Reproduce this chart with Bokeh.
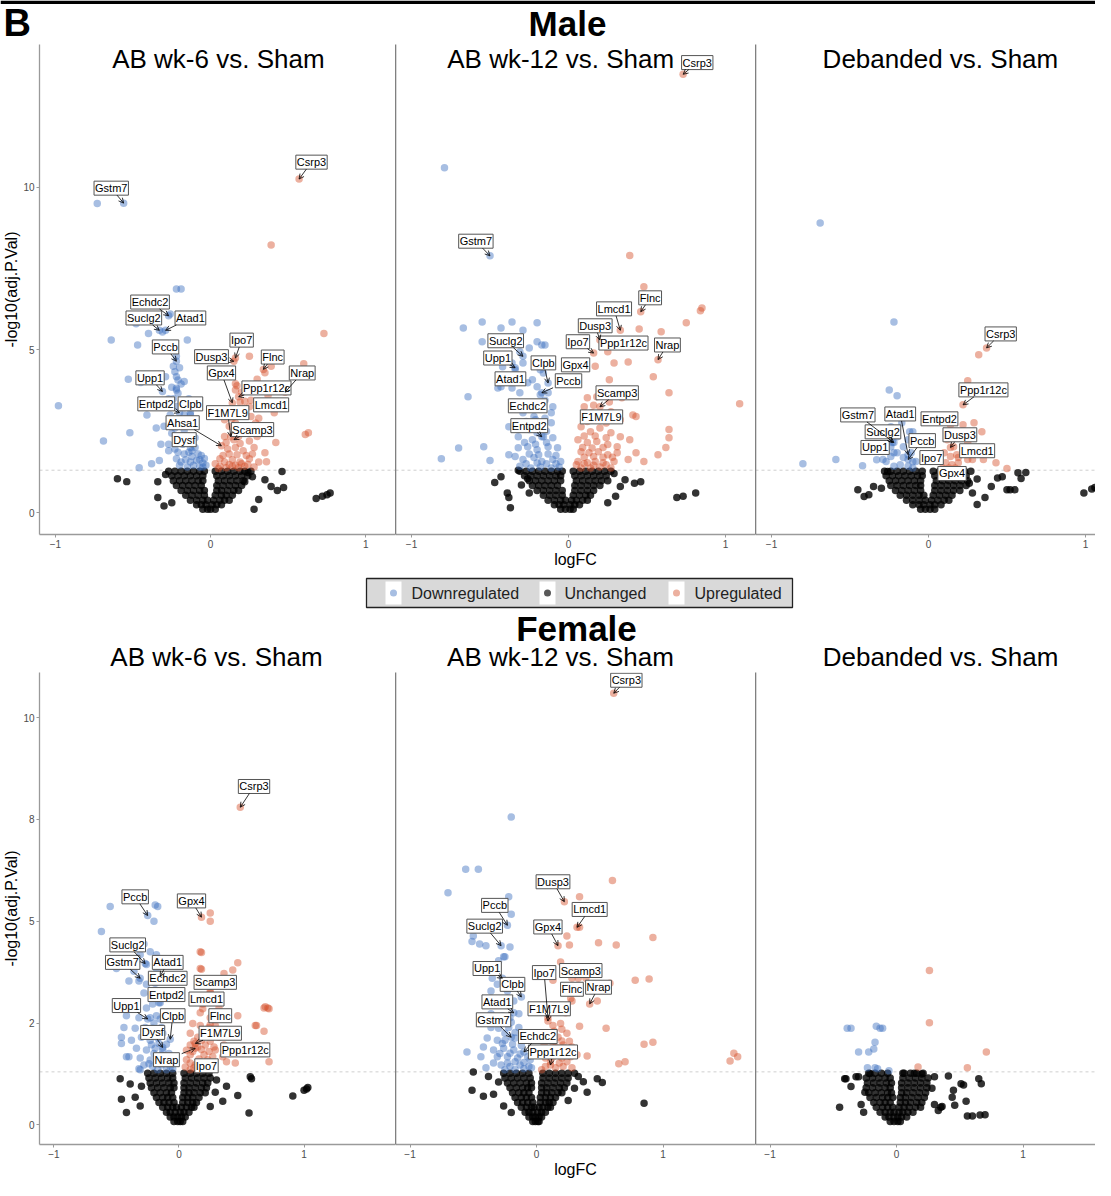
import math
from bokeh.plotting import figure
from bokeh.layouts import column, row
from bokeh.models import Range1d, ColumnDataSource, Arrow, OpenHead, Span, FixedTicker
from bokeh.core.properties import value
from bokeh.embed import file_html
from bokeh.resources import INLINE

FONT = "Liberation Sans"

# ---------------- DATA (logFC, -log10 adj.P) ----------------
# ---- Male, AB wk-6 vs Sham
M6_down = [(-0.73,9.5),(-0.56,9.51),(-0.22,6.87),(-0.19,6.87),(-0.27,6.05),(-0.26,6.1),(-0.33,5.6),(-0.31,5.55),(-0.29,5.6),(-0.64,5.3),(-0.40,5.5),(-0.47,5.15),(-0.48,5.8),(-0.15,5.3),
(-0.22,4.8),(-0.22,4.65),(-0.23,4.33),(-0.22,4.17),(-0.21,4.07),(-0.32,4.07),(-0.29,4.17),(-0.31,3.72),(-0.22,3.82),(-0.22,3.77),(-0.21,3.67),(-0.17,4.03),
(-0.27,3.5),(-0.24,3.5),(-0.14,3.5),(-0.22,3.26),(-0.18,3.26),(-0.41,3.0),(-0.26,3.0),(-0.17,3.0),(-0.13,3.0),(-0.2,3.07),(-0.13,3.07),
(-0.35,2.6),(-0.30,2.65),(-0.25,2.44),(-0.21,2.8),(-0.17,2.54),(-0.14,2.34),(-0.11,2.65),
(-0.27,2.1),(-0.23,1.95),(-0.18,2.1),(-0.14,1.85),(-0.1,2.0),(-0.08,1.8),(-0.13,2.0),
(-0.22,1.65),(-0.16,1.62),(-0.12,1.72),(-0.07,1.62),(-0.04,1.66),
(-0.2,1.45),(-0.15,1.4),(-0.11,1.45),(-0.07,1.4),(-0.03,1.45),(-0.05,1.52),
(-0.53,4.1),(-0.45,4.0),(-0.98,3.28),(-0.69,2.2),(-0.52,2.45),(-0.46,1.38),(-0.38,1.5),(-0.33,1.6),(-0.27,1.9),(-0.32,2.1),
(-0.19,1.55),(-0.13,1.55),(-0.09,1.6),(-0.05,1.4),(-0.17,1.8),(-0.21,1.85),(-0.12,1.9),(-0.06,1.75),(-0.19,2.25),(-0.15,2.2),(-0.1,2.3),(-0.23,2.6),(-0.16,2.85),(-0.19,3.4),(-0.25,3.85),(-0.19,3.95),(-0.24,4.5),(-0.2,4.45)]
M6_up = [(0.57,10.25),(0.39,8.22),(0.73,5.5),(0.16,4.75),(0.15,4.65),(0.25,4.8),(0.34,4.4),(0.35,4.3),(0.39,4.5),(0.60,4.57),(0.48,3.7),
(0.16,3.96),(0.17,3.9),(0.25,3.75),(0.29,3.9),(0.14,3.37),(0.18,3.56),(0.16,3.77),(0.19,3.4),(0.22,3.42),(0.26,3.45),(0.31,3.3),(0.37,3.6),(0.25,3.25),
(0.12,3.1),(0.15,2.95),(0.2,3.1),(0.26,2.95),(0.31,2.9),(0.41,3.07),
(0.09,2.85),(0.12,2.65),(0.16,2.75),(0.21,2.6),(0.29,2.75),(0.35,2.55),
(0.09,2.34),(0.13,2.33),(0.15,2.24),(0.18,2.34),(0.25,2.2),(0.3,2.34),(0.42,2.15),(0.61,2.4),(0.63,2.45),
(0.07,2.05),(0.11,1.95),(0.16,2.0),(0.21,1.9),(0.28,2.0),(0.35,1.84),
(0.06,1.65),(0.09,1.55),(0.14,1.62),(0.19,1.55),(0.25,1.65),(0.31,1.55),(0.36,1.56),
(0.06,1.42),(0.1,1.38),(0.14,1.42),(0.18,1.38),(0.22,1.42),(0.28,1.4),(0.03,1.5),
(0.05,1.35),(0.12,1.48),(0.16,1.45),(0.2,1.5),(0.24,1.48),(0.08,1.75),(0.12,1.8),(0.17,1.78),(0.23,1.75),(0.27,1.8),(0.1,2.15),(0.19,2.12),(0.23,2.45),(0.18,2.55),(0.14,2.9),(0.22,3.2),(0.2,3.7),(0.3,4.1)]
M6_unch_out = [(-0.6,1.04),(-0.54,0.95),(-0.34,0.95),(-0.29,1.17),(-0.34,0.46),(-0.25,0.3),(-0.3,0.2),(0.24,1.23),(0.22,0.95),(0.27,1.1),(0.35,1.01),(0.39,0.8),(0.43,0.68),(0.47,0.77),(0.46,1.26),(0.28,0.1),(0.31,0.4),(0.68,0.43),(0.72,0.5),(0.75,0.55),(0.77,0.6)]
M6_unch_core = [(1.27,[-0.27,-0.23,-0.19,-0.15,-0.11,-0.07,-0.04,0.03,0.07,0.11,0.15,0.19,0.22,0.26]),
(1.13,[-0.25,-0.21,-0.17,-0.13,-0.09,-0.05,0.04,0.08,0.12,0.16,0.2,0.24]),
(0.98,[-0.24,-0.2,-0.16,-0.12,-0.08,-0.05,0.05,0.09,0.13,0.17,0.21]),
(0.83,[-0.22,-0.18,-0.14,-0.1,-0.06,0.04,0.08,0.12,0.16,0.2]),
(0.68,[-0.19,-0.15,-0.11,-0.07,-0.04,0.04,0.07,0.11,0.15,0.18]),
(0.53,[-0.16,-0.12,-0.08,-0.04,0.03,0.07,0.1,0.14]),
(0.38,[-0.13,-0.09,-0.05,-0.02,0.02,0.06,0.09,0.12]),
(0.24,[-0.09,-0.06,-0.03,0.01,0.04,0.07]),
(0.1,[-0.05,-0.02,0.0,0.03])]
M6_labels = [("Gstm7",-0.56,9.51),("Csrp3",0.57,10.25),("Echdc2",-0.27,6.05),("Suclg2",-0.33,5.6),("Atad1",-0.29,5.6),("Pccb",-0.22,4.65),("Ipo7",0.16,4.75),("Dusp3",0.15,4.65),("Flnc",0.34,4.4),("Gpx4",0.14,3.37),("Nrap",0.48,3.7),("Ppp1r12c",0.18,3.56),("Upp1",-0.31,3.72),("Lmcd1",0.25,3.25),("Entpd2",-0.2,3.07),("Clpb",-0.13,3.07),("F1M7L9",0.13,2.33),("Ahsa1",0.07,2.05),("Scamp3",0.15,2.24),("Dysf",-0.13,2.0)]
M6_boxes = [(-0.64,9.97),(0.65,10.77),(-0.39,6.47),(-0.43,5.98),(-0.13,5.98),(-0.29,5.09),(0.2,5.3),(0.006,4.79),(0.4,4.78),(0.07,4.29),(0.59,4.29),(0.36,3.83),(-0.39,4.14),(0.39,3.31),(-0.35,3.34),(-0.13,3.34),(0.11,3.07),(-0.18,2.76),(0.27,2.55),(-0.17,2.24)]

# ---- Male, AB wk-12 vs Sham
M12_down = [(-0.79,10.6),(-0.5,7.89),(-0.67,5.67),(-0.55,5.86),(-0.55,5.25),(-0.43,5.67),(-0.36,5.86),(-0.2,5.83),(-0.29,5.6),(-0.42,4.48),(-0.45,3.83),(-0.64,3.56),(-0.70,1.98),(-0.81,1.65),(-0.5,1.6),(-0.38,1.78),(-0.29,4.8),(-0.34,4.45),(-0.23,4.08),(-0.13,3.98),(-0.17,3.68),(-0.17,2.33),(-0.15,3.45),
(-0.2,5.25),(-0.17,5.15),(-0.15,5.15),(-0.31,4.94),(-0.25,5.06),(-0.36,4.6),(-0.29,4.6),(-0.2,4.69),(-0.34,4.39),(-0.18,4.39),(-0.16,4.29),
(-0.43,3.87),(-0.36,3.83),(-0.26,3.99),(-0.2,3.87),(-0.31,3.68),(-0.18,3.62),(-0.13,3.68),(-0.24,3.37),(-0.1,3.25),
(-0.29,3.07),(-0.22,2.95),(-0.11,3.07),(-0.38,2.64),(-0.31,2.64),(-0.25,2.55),(-0.18,2.64),(-0.11,2.76),
(-0.32,2.33),(-0.23,2.24),(-0.16,2.33),(-0.1,2.3),(-0.54,2.02),(-0.32,1.99),(-0.26,2.02),(-0.2,1.93),(-0.13,2.02),(-0.07,1.99),
(-0.34,1.72),(-0.29,1.63),(-0.22,1.69),(-0.17,1.57),(-0.1,1.63),(-0.05,1.57),
(-0.31,1.42),(-0.24,1.37),(-0.18,1.4),(-0.11,1.37),(-0.06,1.4),
(-0.27,1.5),(-0.2,1.52),(-0.14,1.5),(-0.08,1.5),(-0.25,1.8),(-0.19,1.78),(-0.13,1.8),(-0.08,1.75),(-0.28,2.15),(-0.21,2.1),(-0.14,2.15),(-0.2,2.45),(-0.14,2.5),(-0.27,2.8),(-0.21,2.85),(-0.15,2.9),(-0.26,3.2),(-0.19,3.2)]
M12_up = [(0.73,13.47),(0.39,7.9),(0.48,6.94),(0.85,6.29),(0.46,6.17),(0.33,5.6),(0.45,5.64),(0.59,5.56),(0.75,5.83),(0.84,6.2),(0.22,5.2),(0.2,5.3),(0.16,4.9),(0.57,4.7),(0.25,4.94),(0.17,4.5),(0.26,4.08),(0.54,4.17),(0.64,3.68),(0.12,3.53),(0.41,3.0),(0.43,2.95),(0.64,2.55),(0.64,2.3),(0.62,2.0),(0.57,1.78),(0.48,1.57),(0.2,3.25),(1.09,3.34),(0.17,2.95),(0.1,4.5),
(0.18,3.56),(0.34,3.53),(0.29,4.6),(0.38,4.63),(0.22,3.77),(0.1,3.25),(0.15,3.07),(0.27,3.1),(0.33,2.85),
(0.08,2.64),(0.14,2.48),(0.2,2.6),(0.27,2.45),(0.33,2.33),(0.06,2.24),(0.12,2.15),(0.18,2.18),(0.25,2.09),(0.31,2.02),(0.39,2.24),
(0.08,1.87),(0.13,1.84),(0.19,1.87),(0.25,1.78),(0.31,1.84),(0.43,1.84),
(0.06,1.57),(0.12,1.53),(0.17,1.57),(0.22,1.53),(0.29,1.57),(0.38,1.63),
(0.08,1.37),(0.14,1.37),(0.2,1.4),(0.27,1.37),
(0.05,1.47),(0.1,1.5),(0.16,1.45),(0.24,1.47),(0.1,1.7),(0.16,1.72),(0.22,1.7),(0.28,1.7),(0.09,2.0),(0.15,1.98),(0.22,2.0),(0.1,2.35),(0.17,2.35),(0.24,2.3),(0.12,2.8),(0.24,2.75),(0.16,3.3),(0.26,3.4)]
M12_unch_out = [(-0.32,1.3),(-0.43,1.1),(-0.47,0.92),(-0.38,0.46),(-0.37,0.15),(-0.25,0.6),(-0.26,1.04),(-0.39,0.6),(-0.3,0.85),(0.36,1.01),(0.46,0.95),(0.42,0.9),(0.3,0.5),(0.29,1.2),(0.33,0.8),(0.25,0.3),(0.69,0.46),(0.73,0.5),(0.81,0.6)]
M12_unch_core = [(1.27,[-0.31,-0.27,-0.23,-0.19,-0.15,-0.11,-0.07,-0.04,0.03,0.07,0.11,0.15,0.19,0.23,0.27]),
(1.13,[-0.28,-0.24,-0.2,-0.16,-0.12,-0.08,-0.05,0.04,0.08,0.12,0.16,0.2,0.24]),
(0.98,[-0.25,-0.21,-0.17,-0.13,-0.09,-0.05,0.05,0.09,0.13,0.17,0.21,0.25]),
(0.83,[-0.23,-0.19,-0.15,-0.11,-0.07,0.04,0.08,0.12,0.16,0.2]),
(0.68,[-0.2,-0.16,-0.12,-0.08,-0.04,0.04,0.08,0.12,0.16]),
(0.53,[-0.16,-0.12,-0.08,-0.04,0.03,0.07,0.11,0.14]),
(0.38,[-0.13,-0.09,-0.05,-0.02,0.02,0.05,0.09,0.12]),
(0.24,[-0.09,-0.06,-0.03,0.01,0.04,0.07]),
(0.1,[-0.05,-0.02,0.01,0.03])]
M12_labels = [("Csrp3",0.73,13.47),("Gstm7",-0.5,7.89),("Flnc",0.46,6.17),("Lmcd1",0.33,5.6),("Dusp3",0.2,5.3),("Suclg2",-0.29,4.8),("Ipo7",0.16,4.9),("Ppp1r12c",0.22,5.2),("Nrap",0.57,4.7),("Upp1",-0.34,4.45),("Clpb",-0.13,3.98),("Gpx4",0.1,4.5),("Atad1",-0.23,4.08),("Pccb",-0.17,3.68),("Scamp3",0.2,3.25),("Echdc2",-0.15,3.45),("F1M7L9",0.17,2.95),("Entpd2",-0.17,2.33)]
M12_boxes = [(0.82,13.83),(-0.59,8.34),(0.52,6.6),(0.29,6.26),(0.17,5.74),(-0.4,5.28),(0.06,5.25),(0.35,5.21),(0.63,5.15),(-0.45,4.75),(-0.16,4.6),(0.045,4.54),(-0.37,4.11),(0.0,4.05),(0.31,3.68),(-0.26,3.28),(0.21,2.94),(-0.25,2.67)]

# ---- Male, Debanded vs Sham
MD_down = [(-0.69,8.9),(-0.22,5.86),(-0.25,3.77),(-0.2,3.59),(-0.80,1.5),(-0.59,1.63),(-0.42,1.44),(-0.33,1.62),(-0.29,1.63),(-0.12,2.48),(-0.1,2.48),(-0.22,2.15),(-0.23,2.15),(-0.13,1.78),(-0.22,1.84),(-0.13,1.63),(-0.1,1.56),
(-0.17,2.76),(-0.24,2.64),(-0.2,2.33),(-0.16,2.02),(-0.2,1.84),(-0.24,1.72),(-0.27,1.57),(-0.16,1.69),(-0.11,1.84),(-0.08,1.57),(-0.18,1.47),(-0.13,1.42),(-0.1,1.37),(-0.22,1.42),(-0.24,2.02),(-0.13,2.24)]
MD_up = [(0.37,5.06),(0.32,4.85),(0.25,4.05),(0.22,3.31),(0.14,2.7),(0.22,2.7),(0.29,2.76),(0.34,2.48),(0.25,2.15),(0.35,1.63),(0.43,1.53),(0.5,1.35),(0.14,2.0),(0.19,1.69),
(0.25,1.63),(0.28,1.63),(0.12,2.24),(0.16,2.02),(0.1,1.84),(0.14,1.72),(0.18,1.78),(0.11,1.53),(0.15,1.47),(0.19,1.53),(0.09,1.37),(0.13,1.37),(0.17,1.37),(0.22,2.33)]
MD_unch_out = [(-0.45,0.7),(-0.41,0.49),(-0.35,0.8),(-0.3,0.75),(-0.38,0.55),(-0.26,1.26),(0.31,1.03),(0.26,0.9),(0.28,0.6),(0.36,0.46),(0.4,0.8),(0.44,1.06),(0.47,1.1),(0.5,0.7),(0.52,0.7),(0.55,0.7),(0.59,1.05),(0.57,1.22),(0.62,1.23),(0.31,0.25),(0.99,0.6),(1.04,0.72),(1.06,0.77),(0.22,1.23)]
MD_unch_core = [(1.27,[-0.28,-0.24,-0.2,-0.16,-0.12,-0.08,-0.04,0.03,0.07,0.11,0.15,0.19,0.23,0.27]),
(1.13,[-0.27,-0.23,-0.19,-0.15,-0.11,-0.07,-0.04,0.04,0.08,0.12,0.16,0.2,0.24]),
(0.98,[-0.25,-0.21,-0.17,-0.13,-0.09,-0.05,0.05,0.09,0.13,0.17,0.21,0.25]),
(0.83,[-0.24,-0.2,-0.16,-0.12,-0.08,-0.05,0.04,0.08,0.12,0.16,0.2,0.24]),
(0.68,[-0.21,-0.17,-0.13,-0.09,-0.05,0.04,0.08,0.12,0.16,0.2]),
(0.53,[-0.18,-0.14,-0.1,-0.06,-0.03,0.03,0.07,0.11,0.15]),
(0.38,[-0.14,-0.1,-0.06,-0.02,0.02,0.06,0.1,0.13]),
(0.24,[-0.1,-0.06,-0.03,0.01,0.04,0.08]),
(0.1,[-0.05,-0.02,0.01,0.04])]
MD_labels = [("Csrp3",0.37,5.06),("Ppp1r12c",0.22,3.31),("Gstm7",-0.22,2.15),("Atad1",-0.13,1.78),("Entpd2",0.14,2.7),("Suclg2",-0.23,2.15),("Dusp3",0.14,2.0),("Pccb",-0.13,1.63),("Upp1",-0.22,1.84),("Lmcd1",0.19,1.69),("Ipo7",-0.1,1.56),("Gpx4",0.22,1.23)]
MD_boxes = [(0.46,5.49),(0.35,3.77),(-0.45,3.0),(-0.18,3.03),(0.07,2.88),(-0.29,2.48),(0.2,2.39),(-0.04,2.21),(-0.34,2.0),(0.31,1.9),(0.02,1.69),(0.15,1.2)]

# ---- Female, AB wk-6 vs Sham
F6_down = [(-0.25,5.14),(-0.19,5.4),(-0.17,5.36),(-0.2,5.0),(-0.55,5.36),(-0.62,4.75),(-0.27,3.96),(-0.31,3.6),(-0.5,3.84),(-0.4,3.53),(-0.25,2.6),(-0.13,1.9),(-0.07,2.1),(-0.46,2.15),(-0.42,1.67),(-0.32,1.38),(-0.15,3.65),(-0.19,3.48),(-0.16,3.0),
(-0.28,4.44),(-0.23,4.25),(-0.31,4.18),(-0.18,4.18),(-0.26,3.94),(-0.36,3.77),(-0.18,3.84),(-0.32,3.53),(-0.26,3.45),(-0.21,3.53),(-0.28,3.24),(-0.22,3.21),(-0.17,3.24),
(-0.38,2.97),(-0.26,2.87),(-0.21,2.97),(-0.15,3.0),(-0.42,2.68),(-0.32,2.63),(-0.23,2.63),(-0.18,2.68),
(-0.44,2.39),(-0.35,2.37),(-0.27,2.39),(-0.21,2.37),(-0.14,2.39),(-0.38,2.08),(-0.3,2.15),(-0.23,2.08),(-0.17,2.13),
(-0.46,2.0),(-0.34,1.88),(-0.26,1.84),(-0.19,1.88),(-0.13,1.84),(-0.4,1.67),(-0.31,1.64),(-0.23,1.59),(-0.17,1.64),(-0.1,1.59),
(-0.28,1.47),(-0.21,1.43),(-0.14,1.47),(-0.07,1.43),(-0.31,1.35),(-0.17,1.35),(-0.1,1.35),(-0.05,1.38),
(-0.24,1.5),(-0.18,1.52),(-0.12,1.55),(-0.06,1.52),(-0.2,1.75),(-0.14,1.72),(-0.08,1.75),(-0.22,1.97),(-0.16,2.0),(-0.1,1.98),(-0.25,2.25),(-0.19,2.22),(-0.13,2.25),(-0.2,2.5),(-0.15,2.6)]
F6_up = [(0.49,7.8),(0.18,5.1),(0.25,5.2),(0.25,5.0),(0.18,4.23),(0.47,3.98),(0.43,3.8),(0.18,3.82),(0.25,3.28),(0.19,2.85),(0.25,2.46),(0.13,2.0),(0.29,1.84),(0.13,1.88),(0.71,2.87),(0.69,2.9),(0.62,2.44),(0.68,2.3),(0.72,1.55),(0.47,2.68),(0.38,1.55),(0.17,1.52),
(0.17,4.25),(0.17,3.84),(0.36,3.72),(0.25,3.24),(0.27,3.04),(0.19,2.97),(0.17,2.75),(0.25,2.63),(0.32,2.87),(0.39,2.63),
(0.11,2.49),(0.17,2.44),(0.24,2.39),(0.29,2.44),(0.09,2.25),(0.15,2.15),(0.21,2.2),(0.32,2.15),(0.4,2.25),
(0.09,1.96),(0.15,1.91),(0.21,1.96),(0.28,1.91),(0.36,1.96),(0.09,1.72),(0.2,1.72),(0.27,1.67),(0.35,1.67),(0.61,2.44),
(0.09,1.52),(0.13,1.47),(0.2,1.5),(0.27,1.47),(0.45,1.52),(0.09,1.35),(0.15,1.35),(0.21,1.38),(0.52,1.76),(0.68,2.87),(0.72,2.85),
(0.05,1.42),(0.12,1.4),(0.18,1.43),(0.24,1.42),(0.06,1.6),(0.16,1.62),(0.23,1.6),(0.06,1.83),(0.11,1.8),(0.18,1.85),(0.24,1.8),(0.12,2.05),(0.18,2.08),(0.25,2.05),(0.2,2.3)]
F6_unch_out = [(-0.47,1.13),(-0.39,1.0),(-0.46,0.63),(-0.35,0.68),(-0.31,0.46),(-0.42,0.3),(-0.3,0.95),(0.47,0.72),(0.56,0.29),(0.58,1.13),(0.57,1.18),(0.91,0.71),(1.0,0.85),(1.03,0.92),(1.02,0.88),(0.35,0.58),(0.29,0.8),(0.3,1.1),(0.38,0.95),(0.25,0.45)]
F6_unch_core = [(1.27,[-0.25,-0.2,-0.15,-0.1,-0.05,0.04,0.09,0.14,0.19,0.24]),
(1.15,[-0.24,-0.19,-0.14,-0.09,-0.05,0.05,0.1,0.15,0.2,0.25]),
(1.03,[-0.23,-0.18,-0.13,-0.08,-0.04,0.04,0.09,0.14,0.19,0.23]),
(0.91,[-0.22,-0.17,-0.12,-0.07,-0.04,0.04,0.08,0.13,0.18,0.22]),
(0.79,[-0.2,-0.15,-0.1,-0.06,0.04,0.08,0.12,0.17,0.21]),
(0.67,[-0.18,-0.13,-0.09,-0.05,0.03,0.07,0.11,0.16]),
(0.55,[-0.16,-0.12,-0.08,-0.04,0.03,0.07,0.11,0.14]),
(0.43,[-0.13,-0.09,-0.05,-0.02,0.02,0.06,0.1,0.12]),
(0.31,[-0.1,-0.07,-0.03,0.01,0.04,0.08]),
(0.19,[-0.07,-0.04,-0.01,0.02,0.05]),
(0.08,[-0.04,-0.01,0.01,0.03])]
F6_labels = [("Csrp3",0.49,7.8),("Pccb",-0.25,5.14),("Gpx4",0.18,5.1),("Suclg2",-0.27,3.96),("Gstm7",-0.31,3.6),("Atad1",-0.15,3.65),("Echdc2",-0.19,3.48),("Scamp3",0.25,3.28),("Entpd2",-0.16,3.0),("Lmcd1",0.19,2.85),("Upp1",-0.25,2.6),("Flnc",0.25,2.46),("Clpb",-0.07,2.1),("F1M7L9",0.13,2.0),("Dysf",-0.13,1.9),("Ppp1r12c",0.29,1.84),("Nrap",0.13,1.88),("Ipo7",0.17,1.52)]
F6_boxes = [(0.6,8.31),(-0.35,5.6),(0.1,5.5),(-0.41,4.42),(-0.45,3.99),(-0.09,3.99),(-0.09,3.6),(0.29,3.5),(-0.1,3.2),(0.22,3.09),(-0.42,2.93),(0.33,2.68),(-0.05,2.68),(0.33,2.25),(-0.21,2.27),(0.53,1.84),(-0.1,1.6),(0.22,1.45)]

# ---- Female, AB wk-12 vs Sham
F12_down = [(-0.2,7.56),(-0.56,6.28),(-0.46,6.28),(-0.7,5.7),(-0.22,5.6),(-0.2,5.17),(-0.23,4.9),(-0.28,4.4),(-0.5,4.64),(-0.51,4.5),(-0.4,4.4),(-0.45,4.44),(-0.21,4.37),(-0.25,4.13),(-0.3,4.03),(-0.27,3.6),(-0.26,4.13),(-0.35,3.6),(-0.12,3.14),(-0.18,2.75),(-0.2,2.15),(-0.1,1.79),(-0.55,1.79),(-0.34,1.52),
(-0.31,3.45),(-0.36,3.29),(-0.23,3.29),(-0.34,3.0),(-0.25,2.97),(-0.18,3.04),(-0.36,2.73),(-0.27,2.68),(-0.21,2.63),(-0.14,2.73),
(-0.36,2.39),(-0.3,2.37),(-0.22,2.39),(-0.14,2.39),(-0.39,2.13),(-0.31,2.08),(-0.25,2.08),(-0.17,2.13),(-0.09,2.08),
(-0.42,1.91),(-0.34,1.84),(-0.26,1.88),(-0.18,1.84),(-0.44,1.67),(-0.31,1.67),(-0.23,1.67),(-0.15,1.64),(-0.07,1.67),
(-0.28,1.47),(-0.21,1.43),(-0.13,1.47),(-0.06,1.43),(-0.4,1.4),(-0.25,1.35),(-0.17,1.35),(-0.1,1.38),
(-0.23,1.52),(-0.17,1.55),(-0.1,1.53),(-0.04,1.4),(-0.29,1.75),(-0.21,1.76),(-0.13,1.74),(-0.05,1.6),(-0.27,2.0),(-0.19,1.98),(-0.12,1.95),(-0.25,2.25),(-0.17,2.27),(-0.1,2.25),(-0.2,2.52)]
F12_up = [(0.61,10.6),(0.22,5.48),(0.34,5.6),(0.6,6.0),(0.32,4.85),(0.34,4.85),(0.17,4.4),(0.24,4.64),(0.26,4.42),(0.49,4.47),(0.63,4.42),(0.92,4.6),(0.19,4.0),(0.33,3.6),(0.39,3.6),(0.13,3.55),(0.58,3.48),(0.78,3.55),(0.89,3.58),(0.28,3.04),(0.48,3.04),(0.42,2.97),(0.27,3.1),(0.55,2.37),(0.34,2.42),(0.85,1.98),(0.92,2.03),(0.65,1.5),(0.7,1.55),(0.4,1.69),(1.53,1.57),(1.56,1.76),(1.59,1.67),(0.09,2.63),(0.09,2.55),(0.11,1.47),(0.28,3.6),
(0.13,2.44),(0.19,2.49),(0.24,2.25),(0.17,2.15),(0.1,2.08),(0.09,1.84),(0.15,1.91),(0.21,1.96),(0.28,1.91),(0.07,1.64),(0.13,1.67),(0.2,1.64),(0.27,1.67),(0.32,1.72),(0.07,1.43),(0.15,1.4),(0.21,1.43),(0.28,1.4),(0.17,2.87),(0.23,2.75),
(0.04,1.35),(0.11,1.55),(0.18,1.52),(0.24,1.55),(0.05,1.75),(0.12,1.78),(0.18,1.77),(0.24,1.82),(0.06,1.97),(0.13,2.02),(0.2,2.06),(0.26,2.05),(0.07,2.25),(0.14,2.3),(0.2,2.35)]
F12_unch_out = [(-0.5,1.3),(-0.51,0.85),(-0.38,1.19),(-0.42,0.7),(-0.34,0.75),(-0.26,0.46),(-0.3,1.05),(-0.2,0.3),(0.33,1.19),(0.37,1.06),(0.48,1.13),(0.52,1.04),(0.3,0.9),(0.4,0.8),(0.25,0.6),(0.85,0.53)]
F12_unch_core = [(1.27,[-0.26,-0.21,-0.16,-0.11,-0.06,0.05,0.1,0.15,0.2,0.25,0.3]),
(1.15,[-0.25,-0.2,-0.15,-0.1,-0.05,0.05,0.1,0.15,0.2,0.25]),
(1.03,[-0.23,-0.18,-0.13,-0.08,-0.04,0.04,0.09,0.14,0.19,0.24]),
(0.91,[-0.21,-0.16,-0.11,-0.07,-0.04,0.04,0.08,0.13,0.18,0.22]),
(0.79,[-0.19,-0.14,-0.1,-0.06,0.04,0.08,0.12,0.17,0.2]),
(0.67,[-0.17,-0.12,-0.08,-0.04,0.03,0.07,0.11,0.15]),
(0.55,[-0.15,-0.11,-0.07,-0.03,0.03,0.07,0.1,0.13]),
(0.43,[-0.12,-0.08,-0.04,-0.02,0.02,0.05,0.09,0.11]),
(0.31,[-0.09,-0.06,-0.03,0.01,0.04,0.07]),
(0.19,[-0.06,-0.03,-0.01,0.02,0.04]),
(0.08,[-0.03,-0.01,0.01,0.02])]
F12_labels = [("Csrp3",0.61,10.6),("Dusp3",0.22,5.48),("Lmcd1",0.32,4.85),("Pccb",-0.23,4.9),("Suclg2",-0.28,4.4),("Gpx4",0.17,4.4),("Upp1",-0.27,3.6),("Ipo7",0.09,2.63),("Scamp3",0.28,3.6),("Clpb",-0.12,3.14),("Flnc",0.27,3.1),("Nrap",0.42,2.97),("Atad1",-0.18,2.75),("F1M7L9",0.09,2.55),("Gstm7",-0.2,2.15),("Echdc2",-0.1,1.79),("Ppp1r12c",0.11,1.47)]
F12_boxes = [(0.71,10.92),(0.13,5.97),(0.42,5.29),(-0.33,5.39),(-0.41,4.88),(0.09,4.86),(-0.39,3.84),(0.06,3.74),(0.35,3.79),(-0.19,3.45),(0.28,3.33),(0.49,3.38),(-0.31,3.02),(0.1,2.85),(-0.34,2.58),(0.01,2.17),(0.13,1.79)]

# ---- Female, Debanded vs Sham
FD_down = [(-0.39,2.37),(-0.36,2.37),(-0.16,2.42),(-0.13,2.37),(-0.11,2.37),(-0.17,2.03),(-0.18,1.86),(-0.3,1.79),(-0.22,1.79),(-0.23,1.4),(-0.17,1.4),(-0.15,1.38),(-0.06,1.33)]
FD_up = [(0.26,3.79),(0.26,2.51),(0.71,1.79),(0.56,1.4),(0.17,1.42)]
FD_unch_out = [(-0.41,1.13),(-0.4,1.13),(-0.32,1.18),(-0.3,1.18),(-0.36,0.94),(-0.45,0.43),(-0.26,0.31),(-0.21,1.26),(0.3,1.18),(0.41,1.2),(0.51,1.01),(0.53,0.98),(0.45,0.85),(0.44,0.68),(0.46,0.48),(0.35,0.43),(0.36,0.45),(0.55,0.58),(0.65,1.13),(0.67,1.01),(0.56,0.22),(0.6,0.22),(0.66,0.24),(0.7,0.25),(0.33,0.35),(0.3,0.5),(-0.28,0.5),(-0.25,0.8),(0.28,0.9),(0.2,1.25),(0.14,1.27),(0.05,1.27)]
FD_unch_core = [(1.27,[-0.22,-0.17,-0.12,-0.07,0.06,0.11,0.16,0.21]),
(1.15,[-0.24,-0.19,-0.14,-0.09,-0.05,0.05,0.1,0.15,0.2,0.25]),
(1.03,[-0.23,-0.18,-0.13,-0.08,-0.04,0.04,0.09,0.14,0.19,0.24]),
(0.91,[-0.24,-0.19,-0.14,-0.09,-0.05,0.04,0.09,0.14,0.19,0.24]),
(0.79,[-0.22,-0.17,-0.12,-0.07,-0.04,0.04,0.08,0.13,0.18,0.23]),
(0.67,[-0.21,-0.16,-0.11,-0.07,-0.03,0.03,0.07,0.12,0.17,0.22]),
(0.55,[-0.18,-0.13,-0.09,-0.05,0.03,0.07,0.11,0.16,0.2]),
(0.43,[-0.16,-0.11,-0.07,-0.03,0.02,0.06,0.1,0.15,0.19]),
(0.31,[-0.13,-0.09,-0.05,-0.02,0.02,0.05,0.09,0.13]),
(0.19,[-0.09,-0.06,-0.02,0.01,0.04,0.08]),
(0.08,[-0.05,-0.02,0.01,0.03])]
FD_labels = []
FD_boxes = []

TITLES = ["AB wk-6 vs. Sham", "AB wk-12 vs. Sham", "Debanded vs. Sham"]
LEGEND = ["Downregulated", "Unchanged", "Upregulated"]
THRESH = 1.301  # -log10(0.05)

# ---------------- STYLE / GEOMETRY ----------------
DOWN_C, UP_C, UNCH_C = "#3c6ebf", "#d4502a", "#000000"
KEY_C = ["#a7bee2", "#595959", "#ecb09f"]
AX_C, TICK_TXT = "#9a9a9a", "#4d4d4d"
PT = 7.5

WIDTHS = [395, 360, 340]
M_XR = [(-1.102, 1.191), (-1.102, 1.191), (-1.102, 1.064)]
M_YR = (-0.675, 14.386)
F_XR = [(-1.115, 1.731), (-1.115, 1.731), (-1.115, 1.573)]
F_YR = (-0.483, 11.11)


def leaders(labels, boxes, sx, sy):
    d = dict(xs=[], ys=[], xe=[], ye=[])
    for (name, px, py), (bx, by) in zip(labels, boxes):
        hw, hh = 3.1 * len(name) + 3, 7.0
        dx, dy = (px - bx) * sx, (py - by) * sy
        if abs(dx) <= hw and abs(dy) <= hh:
            continue
        t = min(hw / abs(dx) if dx else 1e9, hh / abs(dy) if dy else 1e9)
        if (1 - t) * math.hypot(dx, dy) < 4:
            continue
        d["xs"].append(bx + t * (px - bx)); d["ys"].append(by + t * (py - by))
        d["xe"].append(px); d["ye"].append(py)
    return d


def panel(i, down, up, out, core, labels, boxes, xr, yr, h, bb, sx, sy, yticks, yover):
    first = (i == 0)
    p = figure(width=WIDTHS[i], height=h, x_range=Range1d(*xr), y_range=Range1d(*yr),
               output_backend="svg", toolbar_location=None,
               min_border_left=35 if first else 0, min_border_right=0,
               min_border_top=0, min_border_bottom=bb)
    p.outline_line_color = None
    p.xgrid.visible = False
    p.ygrid.visible = False
    p.background_fill_color = "white"
    p.border_fill_color = "white"
    xa = p.xaxis[0]
    xa.ticker = FixedTicker(ticks=[-1, 0, 1])
    xa.axis_line_color = AX_C; xa.axis_line_width = 1.3
    xa.major_tick_line_color = AX_C; xa.major_tick_out = 3; xa.major_tick_in = 0
    xa.minor_tick_line_color = None
    xa.major_label_text_font = FONT; xa.major_label_text_font_size = "10px"
    xa.major_label_text_color = TICK_TXT; xa.major_label_standoff = 2
    xa.axis_label = "logFC" if i == 1 else " "
    xa.axis_label_text_font = FONT; xa.axis_label_text_font_size = "16px"
    xa.axis_label_text_font_style = "normal"; xa.axis_label_text_color = "black"
    xa.axis_label_standoff = 0
    ya = p.yaxis[0]
    ya.axis_line_color = AX_C if first else "#808080"
    ya.axis_line_width = 1.3 if first else 1.6
    ya.minor_tick_line_color = None
    if first:
        ya.ticker = FixedTicker(ticks=yticks)
        ya.major_label_overrides = yover
        ya.major_tick_line_color = AX_C; ya.major_tick_out = 3; ya.major_tick_in = 0
        ya.major_label_text_font = FONT; ya.major_label_text_font_size = "10px"
        ya.major_label_text_color = TICK_TXT; ya.major_label_standoff = 2
        ya.axis_label = "-log10(adj.P.Val)"
        ya.axis_label_text_font = FONT; ya.axis_label_text_font_size = "16px"
        ya.axis_label_text_font_style = "normal"; ya.axis_label_text_color = "black"
        ya.axis_label_standoff = 0
    else:
        ya.ticker = FixedTicker(ticks=[])
        ya.major_tick_line_color = None
        ya.major_label_text_font_size = "0px"
        ya.major_label_standoff = 0
        ya.major_tick_out = 0
    p.add_layout(Span(location=THRESH, dimension="width", line_color="#cfcfcf",
                      line_dash="3 3", line_width=1, level="underlay"))
    ux = [x for (_, xs) in core for x in xs] + [x for x, _ in out]
    uy = [y for (y, xs) in core for _ in xs] + [y for _, y in out]
    p.scatter(ux, uy, size=PT, fill_color=UNCH_C, fill_alpha=0.8, line_color=None)
    p.scatter([x for x, _ in down], [y for _, y in down], size=PT, fill_color=DOWN_C, fill_alpha=0.45, line_color=None)
    p.scatter([x for x, _ in up], [y for _, y in up], size=PT, fill_color=UP_C, fill_alpha=0.45, line_color=None)
    if labels:
        src = ColumnDataSource(leaders(labels, boxes, sx, sy))
        p.add_layout(Arrow(end=OpenHead(size=5, line_width=0.8, line_color="black"),
                           x_start="xs", y_start="ys", x_end="xe", y_end="ye", source=src,
                           line_width=0.8, line_color="black"))
        lsrc = ColumnDataSource(dict(x=[b[0] for b in boxes], y=[b[1] for b in boxes],
                                     t=[l[0] for l in labels]))
        p.text(x="x", y="y", text="t", source=lsrc, text_font=value(FONT), text_font_size="11px",
               text_align="center", text_baseline="middle", text_color="black",
               background_fill_color="white", border_line_color="#555555", border_line_width=1,
               padding=1)
    return p


def blank(h, yr):
    f = figure(width=1095, height=h, x_range=Range1d(0, 1095), y_range=Range1d(*yr),
               output_backend="svg", toolbar_location=None, x_axis_location=None,
               y_axis_location=None, min_border_left=0, min_border_right=0,
               min_border_top=0, min_border_bottom=0)
    f.grid.visible = False
    f.outline_line_color = None
    f.background_fill_color = "white"
    f.border_fill_color = "white"
    return f

# ---------------- HEADER ----------------
header = blank(44, (44, 0))
header.quad(left=[0], right=[1095], top=[0], bottom=[3.5], fill_color="black", line_color=None)
header.text(x=[3], y=[22], text=["B"], text_font=value(FONT), text_font_style="bold",
            text_font_size="38px", text_align="left", text_baseline="middle")
header.text(x=[567], y=[22.5], text=["Male"], text_font=value(FONT), text_font_style="bold",
            text_font_size="35px", text_align="center", text_baseline="middle")

# ---------------- MALE ROW ----------------
MS = (157.0, 32.6)
male_sets = [(M6_down, M6_up, M6_unch_out, M6_unch_core, M6_labels, M6_boxes),
             (M12_down, M12_up, M12_unch_out, M12_unch_core, M12_labels, M12_boxes),
             (MD_down, MD_up, MD_unch_out, MD_unch_core, MD_labels, MD_boxes)]
male = []
m_title_x = [0.05, -0.05, 0.076]
for i, s in enumerate(male_sets):
    p = panel(i, *s, M_XR[i], M_YR, 526, 35, MS[0], MS[1], [0, 5, 10], {})
    p.text(x=[m_title_x[i]], y=[13.94], text=[TITLES[i]], text_font=value(FONT),
           text_font_size="26px", text_align="center", text_baseline="middle", text_color="black")
    male.append(p)

# ---------------- MIDDLE (legend, Female titles) ----------------
mid = blank(102, (672, 570))
mid.quad(left=[366], right=[792], top=[578], bottom=[607], fill_color="#d9d9d9",
         line_color="#222222", line_width=1.3)
key_x = [393, 547, 676]
txt_x = [411, 564, 694]
mid.quad(left=[k - 8 for k in key_x], right=[k + 8 for k in key_x], top=[581] * 3, bottom=[604] * 3,
         fill_color="white", line_color=None)
mid.scatter(key_x, [592.5] * 3, size=7, fill_color=KEY_C, line_color=None)
mid.text(x=txt_x, y=[592.5] * 3, text=LEGEND, text_font=value(FONT), text_font_size="16px",
         text_align="left", text_baseline="middle", text_color="#222222")
mid.text(x=[576], y=[628], text=["Female"], text_font=value(FONT), text_font_style="bold",
         text_font_size="35px", text_align="center", text_baseline="middle")
mid.text(x=[216, 560, 940], y=[656] * 3, text=TITLES, text_font=value(FONT), text_font_size="26px",
         text_align="center", text_baseline="middle")

# ---------------- FEMALE ROW ----------------
FS = (126.5, 40.7)
female_sets = [(F6_down, F6_up, F6_unch_out, F6_unch_core, F6_labels, F6_boxes),
               (F12_down, F12_up, F12_unch_out, F12_unch_core, F12_labels, F12_boxes),
               (FD_down, FD_up, FD_unch_out, FD_unch_core, FD_labels, FD_boxes)]
female = []
for i, s in enumerate(female_sets):
    female.append(panel(i, *s, F_XR[i], F_YR, 508, 36, FS[0], FS[1],
                        [0, 2.5, 5, 7.5, 10], {2.5: "2", 7.5: "8"}))

layout = column(header, row(*male), mid, row(*female))
open("out.html", "w").write(file_html(layout, INLINE, "Volcano plots"))
